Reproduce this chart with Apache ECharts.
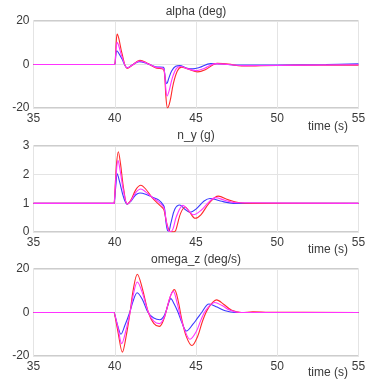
<!DOCTYPE html>
<html>
<head>
<meta charset="utf-8">
<script src="https://cdn.jsdelivr.net/npm/echarts@6/dist/echarts.min.js"></script>
<style>
html,body{margin:0;padding:0;background:#fff;}
#c{width:371px;height:380px;}
</style>
</head>
<body>
<div id="c"></div>
<script>
// ---- Data ----
var titles = ['alpha (deg)', 'n_y (g)', 'omega_z (deg/s)'];
var xName = 'time (s)';
var xTicks = [35, 40, 45, 50, 55];
var yRanges = [[-20, 20, 20], [0, 3, 1], [-20, 20, 20]];

// alpha (deg)
var alphaRedT = [35, 39.95, 40.0, 40.08, 40.15, 40.25, 40.45, 40.77, 41.1, 41.55, 42.0, 42.5, 43.0, 43.08, 43.15, 43.25, 43.4, 43.6, 43.85, 44.1, 44.5, 45.1, 45.6, 46.3, 47.0, 47.8, 49.0, 51.0, 55];
var alphaRedV = [0, 0, 0, 9, 14, 12, 5, -1.8, -0.2, 1.9, 0.6, -1.5, -2.3, -6, -15, -20, -17, -9, -3, -1.2, -2, -3.4, -2.3, 0.5, 0.2, -0.7, -0.6, -0.4, -0.3];
var alphaMagT = [35, 39.95, 40.0, 40.08, 40.15, 40.25, 40.45, 40.77, 41.1, 41.55, 42.0, 42.5, 43.0, 43.08, 43.14, 43.22, 43.35, 43.55, 43.8, 44.05, 44.5, 45.0, 45.5, 46.2, 47.0, 48.0, 50.0, 55];
var alphaMagV = [0, 0, 0, 7, 10.2, 8.5, 3.5, -1.6, -0.2, 1.6, 0.5, -1.2, -1.9, -5, -11, -14.5, -12, -6, -1.8, -0.9, -2, -2.8, -1.8, 0.4, 0, -0.5, -0.4, -0.1];
var alphaBlueT = [35, 39.95, 40.0, 40.07, 40.12, 40.22, 40.45, 40.77, 41.1, 41.5, 42.0, 42.5, 43.0, 43.07, 43.13, 43.2, 43.32, 43.5, 43.75, 44.0, 44.4, 44.8, 45.2, 45.9, 46.6, 47.5, 50, 53, 55];
var alphaBlueV = [0, 0, 0, 4.5, 6.3, 5.5, 2.5, -1.5, -0.1, 1.3, 0.4, -1, -1.3, -4, -7.5, -8.8, -6.5, -3, -0.8, -0.5, -1.6, -2.0, -1.4, 0.4, 0.2, -0.3, -0.2, 0, 0.3];

// n_y (g)
var nyRedT = [35, 39.97, 40.0, 40.1, 40.22, 40.35, 40.55, 40.77, 41.0, 41.3, 41.6, 41.9, 42.3, 42.7, 43.0, 43.08, 43.2, 43.35, 43.5, 43.7, 43.85, 44.05, 44.33, 44.6, 44.95, 45.3, 45.8, 46.37, 47.0, 47.6, 48.5, 55];
var nyRedV = [1, 1, 1, 2.3, 2.8, 2.4, 1.5, 0.98, 1.12, 1.48, 1.63, 1.5, 1.2, 0.97, 0.8, 0.65, 0.3, 0.05, 0.01, 0.02, 0.25, 0.65, 0.87, 0.7, 0.48, 0.6, 1.0, 1.25, 1.12, 1.03, 1.0, 1.0];
var nyMagT = [35, 39.97, 40.0, 40.1, 40.2, 40.33, 40.55, 40.77, 41.0, 41.3, 41.6, 41.9, 42.3, 42.7, 43.0, 43.08, 43.18, 43.3, 43.42, 43.58, 43.8, 44.2, 44.5, 44.85, 45.3, 45.8, 46.2, 46.8, 47.5, 55];
var nyMagV = [1, 1, 1, 2.1, 2.5, 2.15, 1.4, 0.98, 1.1, 1.38, 1.5, 1.4, 1.21, 1.05, 0.87, 0.72, 0.35, 0.06, 0.01, 0.1, 0.55, 0.93, 0.78, 0.6, 0.75, 1.05, 1.2, 1.1, 1.02, 1];
var nyBlueT = [35, 39.97, 40.0, 40.08, 40.15, 40.3, 40.55, 40.77, 41.0, 41.3, 41.55, 41.9, 42.3, 42.7, 43.0, 43.07, 43.15, 43.25, 43.32, 43.45, 43.7, 44.0, 44.3, 44.63, 45.0, 45.5, 45.86, 46.5, 47.3, 55];
var nyBlueV = [1, 1, 1, 1.7, 2.03, 1.75, 1.2, 0.97, 1.08, 1.3, 1.36, 1.32, 1.22, 1.12, 0.93, 0.8, 0.35, 0.05, 0.04, 0.3, 0.8, 0.94, 0.8, 0.69, 0.8, 1.08, 1.17, 1.08, 1.0, 1];

// omega_z (deg/s)
var omRedT = [35, 39.97, 40.0, 40.2, 40.47, 40.7, 40.94, 41.15, 41.39, 41.7, 42.07, 42.4, 42.74, 43.0, 43.25, 43.45, 43.67, 43.9, 44.12, 44.4, 44.75, 45.1, 45.4, 45.76, 46.27, 46.7, 47.2, 47.8, 48.5, 49.5, 55];
var omRedV = [0, 0, 0, -9, -18.2, -11, 0, 11, 17.6, 11, 0, -5, -6.4, -3.5, 3, 8, 10.5, 5.5, -3, -11, -15.2, -11, -4, 2, 5.8, 3.8, 1, 0, 0.3, 0.1, 0];
var omMagT = [35, 39.97, 40.0, 40.2, 40.43, 40.68, 40.94, 41.15, 41.39, 41.7, 42.07, 42.4, 42.75, 43.0, 43.2, 43.4, 43.6, 43.85, 44.05, 44.3, 44.63, 45.0, 45.3, 45.6, 46.15, 46.6, 47.1, 47.7, 55];
var omMagV = [0, 0, 0, -7, -14.3, -8.5, 0, 8.5, 14, 9, 0, -4, -5.1, -3, 1.5, 7, 9.7, 4, -2, -8, -12.3, -9, -3.5, 1.0, 4.6, 3.2, 1, 0, 0];
var omBlueT = [35, 39.97, 40.0, 40.18, 40.38, 40.62, 40.92, 41.12, 41.38, 41.7, 42.05, 42.4, 42.78, 43.0, 43.15, 43.3, 43.45, 43.65, 43.9, 44.15, 44.42, 44.8, 45.1, 45.35, 45.8, 46.3, 46.8, 47.4, 55];
var omBlueV = [0, 0, 0, -6, -10, -6, 0, 5, 9.1, 6, 0, -2.5, -3.3, -2, 0.5, 4, 6.4, 4, 0, -5, -8.5, -5.5, -2.5, 0, 3.9, 2.5, 0.8, 0, 0];

// ---- Build ----
function zip(t, v) { return t.map(function (x, i) { return [x, v[i]]; }); }
var panels = [
  [[alphaBlueT, alphaBlueV], [alphaRedT, alphaRedV], [alphaMagT, alphaMagV]],
  [[nyBlueT, nyBlueV], [nyRedT, nyRedV], [nyMagT, nyMagV]],
  [[omBlueT, omBlueV], [omRedT, omRedV], [omMagT, omMagV]]
];
var colors = ['#3a3aff', '#ff2a2a', '#ff33ff'];
var gridTops = [21, 146, 269];
var gridHeights = [87, 86, 87];
var titleTops = [6, 130, 254];
var nameTops = [121, 244, 367];
var font = 'Liberation Sans, Arial, sans-serif';
var textColor = '#3a3a3a';
var fs = 12;

var option = { animation: false, backgroundColor: '#fff', title: [], grid: [], xAxis: [], yAxis: [], series: [] };
for (var p = 0; p < 3; p++) {
  option.title.push({ text: titles[p], left: 196, top: titleTops[p], textAlign: 'center', padding: 0,
    textStyle: { fontFamily: font, fontSize: fs, fontWeight: 'normal', color: textColor } });
  option.title.push({ text: xName, right: 23, top: nameTops[p], padding: 0,
    textStyle: { fontFamily: font, fontSize: fs, fontWeight: 'normal', color: textColor } });
  option.grid.push({ left: 33.5, right: 12.5, top: gridTops[p], height: gridHeights[p], show: true,
    borderColor: '#9a9a9a', borderWidth: 1, backgroundColor: 'transparent' });
  option.xAxis.push({ type: 'value', gridIndex: p, min: xTicks[0], max: xTicks[xTicks.length - 1], interval: 5,
    axisLine: { show: false }, axisTick: { show: false },
    axisLabel: { fontFamily: font, fontSize: fs, color: textColor, margin: 5 },
    splitLine: { show: true, lineStyle: { color: '#e4e4e4', width: 1 } } });
  option.yAxis.push({ type: 'value', gridIndex: p, min: yRanges[p][0], max: yRanges[p][1], interval: yRanges[p][2],
    axisLine: { show: false }, axisTick: { show: false },
    axisLabel: { fontFamily: font, fontSize: fs, color: textColor, margin: 4 },
    splitLine: { show: true, lineStyle: { color: '#e4e4e4', width: 1 } } });
  for (var s = 0; s < 3; s++) {
    option.series.push({ type: 'line', xAxisIndex: p, yAxisIndex: p, data: zip(panels[p][s][0], panels[p][s][1]),
      smooth: 0.35, showSymbol: false, symbol: 'none', clip: true,
      lineStyle: { color: colors[s], width: 1.1 }, itemStyle: { color: colors[s] } });
  }
}
var chart = echarts.init(document.getElementById('c'), null, { renderer: 'canvas' });
chart.setOption(option);
</script>
</body>
</html>
